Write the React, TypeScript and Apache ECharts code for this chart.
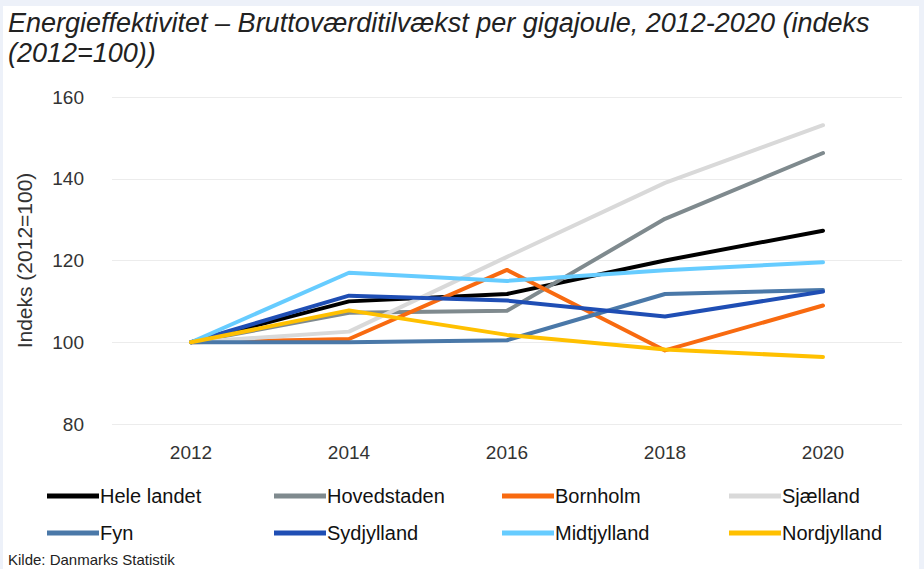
import React, { useEffect, useRef } from "react";
import * as echarts from "echarts";

const years = ["2012", "2014", "2016", "2018", "2020"];
const seriesNames = ["Hele landet", "Hovedstaden", "Bornholm", "Sjælland", "Fyn", "Sydjylland", "Midtjylland", "Nordjylland"];
const seriesColors = ["#000000", "#7f8a8e", "#f86a10", "#d9d9d9", "#4a78a8", "#1f4eb4", "#66ccff", "#ffc000"];
const heleLandet = [100, 110.0, 111.8, 120.0, 127.3];
const hovedstaden = [100, 107.2, 107.7, 130.2, 146.3];
const bornholm = [100, 100.8, 117.7, 98.0, 109.0];
const sjaelland = [100, 102.6, 120.9, 139.0, 153.1];
const fyn = [100, 100.0, 100.5, 111.8, 112.8];
const sydjylland = [100, 111.4, 110.2, 106.3, 112.4];
const midtjylland = [100, 117.0, 115.0, 117.6, 119.6];
const nordjylland = [100, 107.8, 101.8, 98.2, 96.4];
const yTicks = [80, 100, 120, 140, 160];

const allValues = [heleLandet, hovedstaden, bornholm, sjaelland, fyn, sydjylland, midtjylland, nordjylland];

const FONT = "'Liberation Sans', Arial, sans-serif";

export default function App() {
  const ref = useRef<HTMLDivElement>(null);
  useEffect(() => {
    document.body.style.margin = "0";
    const chart = echarts.init(ref.current!, null, { renderer: "svg" });
    const legendPos = [
      [42, 481], [269, 481], [497, 481], [724, 481],
      [42, 518], [269, 518], [497, 518], [724, 518],
    ];
    chart.setOption({
      animation: false,
      backgroundColor: "#edf1f9",
      graphic: [
        { type: "rect", shape: { x: 3, y: 6, width: 916, height: 570 }, style: { fill: "#ffffff" }, z: -10 },
        {
          type: "text", left: 8, top: 8,
          style: {
            text: "Energieffektivitet – Bruttoværditilvækst per gigajoule, 2012-2020 (indeks\n(2012=100))",
            font: "italic 27px " + FONT,
            fill: "#222222", lineHeight: 30,
          },
        },
        {
          type: "text", left: 8, top: 552,
          style: { text: "Kilde: Danmarks Statistik", font: "15px " + FONT, fill: "#222222" },
        },
      ],
      legend: seriesNames.map((n, i) => ({
        data: [n],
        left: legendPos[i][0],
        top: legendPos[i][1],
        icon: "rect",
        itemWidth: 52,
        itemHeight: 5,
        itemGap: 0,
        textStyle: { fontSize: 20, color: "#111111", fontFamily: FONT, padding: [0, 0, 0, -4] },
        selectedMode: false,
      })),
      grid: { left: 112, right: 22, top: 97, bottom: 145 },
      xAxis: {
        type: "category",
        data: years,
        boundaryGap: true,
        axisLine: { show: false },
        axisTick: { show: false },
        axisLabel: { fontSize: 19, color: "#333333", margin: 19, fontFamily: FONT },
      },
      yAxis: {
        type: "value",
        min: yTicks[0],
        max: yTicks[yTicks.length - 1],
        interval: 20,
        name: "Indeks (2012=100)",
        nameLocation: "middle",
        nameGap: 77,
        nameTextStyle: { fontSize: 21, color: "#333333", fontFamily: FONT },
        axisLabel: { fontSize: 19, color: "#333333", margin: 28, fontFamily: FONT },
        splitLine: { lineStyle: { color: "#ececec", width: 1 } },
        axisLine: { show: false },
        axisTick: { show: false },
      },
      series: seriesNames.map((n, i) => ({
        name: n,
        type: "line",
        data: allValues[i],
        symbol: "none",
        color: seriesColors[i],
        lineStyle: { width: 4, color: seriesColors[i], cap: "round", join: "round" },
      })),
    });
    return () => chart.dispose();
  }, []);
  return <div ref={ref} style={{ width: 924, height: 569 }} />;
}
